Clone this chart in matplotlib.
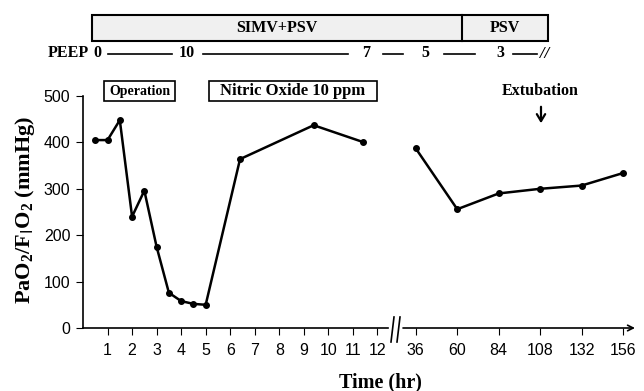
import matplotlib
matplotlib.use("Agg")
import matplotlib.pyplot as plt
from matplotlib.patches import Rectangle, FancyArrowPatch
from matplotlib.lines import Line2D

# PaO2/FIO2 readings, first 12 hours then later days
early_hours = [0.5, 1, 1.5, 2, 2.5, 3, 3.5, 4, 4.5, 5, 6.4, 9.4, 11.4]
early_ratio = [405, 405, 448, 240, 296, 175, 76, 58, 52, 50, 364, 437, 401]
late_hours = [36, 60, 84, 108, 132, 156]
late_ratio = [387, 256, 290, 300, 307, 334]

early_ticks = list(range(1, 13))
late_ticks = [36, 60, 84, 108, 132, 156]
y_ticks = [0, 100, 200, 300, 400, 500]

peep_labels = ['0', '10', '7', '5', '3']

W, H = 644, 391
serif = 'Liberation Serif'
sans = 'Liberation Sans'


def fx(x):
    return x / W


def fy(y):
    return 1 - y / H


fig = plt.figure(figsize=(6.44, 3.91), dpi=100)
bottom = fy(328)
height = fy(96) - bottom
ax1 = fig.add_axes([fx(83), bottom, fx(388) - fx(83), height])
ax2 = fig.add_axes([fx(403), bottom, fx(635) - fx(403), height])

ax1.plot(early_hours, early_ratio, color='black', lw=1.8, marker='o', ms=4)
ax1.set_xlim(0, 12.43)
ax2.plot(late_hours, late_ratio, color='black', lw=1.8, marker='o', ms=4)
ax2.set_xlim(28.6, 162.9)

for ax in (ax1, ax2):
    ax.set_ylim(0, 500)
    ax.spines['top'].set_visible(False)
    ax.spines['right'].set_visible(False)
    ax.tick_params(direction='out', length=5, width=0.8, labelsize=11.5, pad=6)
    ax.patch.set_alpha(0)

ax1.set_xticks(early_ticks)
ax1.set_xticklabels([str(t) for t in early_ticks], fontfamily=sans)
ax1.set_yticks(y_ticks)
ax1.set_yticklabels([str(t) for t in y_ticks], fontfamily=sans)
ax1.tick_params(axis='y', pad=4)
ax1.spines['left'].set_linewidth(1.2)
ax1.spines['bottom'].set_linewidth(1.2)

ax2.set_xticks(late_ticks)
ax2.set_xticklabels([str(t) for t in late_ticks], fontfamily=sans)
ax2.spines['left'].set_visible(False)
ax2.spines['bottom'].set_visible(False)
ax2.set_yticks([])
ax2.annotate('', xy=(1, 0), xytext=(0, 0), xycoords='axes fraction',
             arrowprops=dict(arrowstyle='->', lw=1.2, color='black',
                             shrinkA=0, shrinkB=0))

# axis break marks
for bx in (391, 397):
    fig.add_artist(Line2D([fx(bx), fx(bx + 3)], [fy(342), fy(317)], color='black', lw=1.2))

fig.text(fx(380), fy(382), 'Time (hr)', family=serif, weight='bold', fontsize=14.5,
         ha='center', va='center')
plt.rcParams['mathtext.default'] = 'regular'
fig.text(fx(25), fy(210), r'PaO$_2$/F$_\mathrm{I}$O$_2$ (mmHg)', family=serif, weight='bold',
         fontsize=16, rotation=90, ha='center', va='center')

# ventilation mode bar
fig.add_artist(Rectangle((fx(92), fy(41)), fx(548) - fx(92), fy(15) - fy(41),
                         facecolor='#f0f0f0', edgecolor='black', lw=1.5))
fig.add_artist(Line2D([fx(462), fx(462)], [fy(41), fy(15)], color='black', lw=1.5))
fig.text(fx(277), fy(28), 'SIMV+PSV', family=serif, weight='bold', fontsize=11.5,
         ha='center', va='center')
fig.text(fx(505), fy(28), 'PSV', family=serif, weight='bold', fontsize=11.5,
         ha='center', va='center')

# PEEP row
fig.text(fx(89), fy(53), 'PEEP', family=serif, weight='bold', fontsize=11.5,
         ha='right', va='center')
peep_x = [97, 187, 366, 425, 500]
for lab, px in zip(peep_labels, peep_x):
    fig.text(fx(px), fy(53), lab, family=serif, weight='bold', fontsize=11.5,
             ha='center', va='center')
for x0, x1 in [(108, 172), (203, 348), (383, 403), (444, 475), (513, 537)]:
    fig.add_artist(Line2D([fx(x0), fx(x1)], [fy(54), fy(54)], color='black', lw=1.2))
fig.text(fx(545), fy(54), '//', family=serif, weight='bold', style='italic', fontsize=12,
         ha='center', va='center')

# event boxes
for x0, x1 in [(104, 175), (209, 377)]:
    fig.add_artist(Rectangle((fx(x0), fy(101)), fx(x1) - fx(x0), fy(81) - fy(101),
                             facecolor='white', edgecolor='black', lw=1.2))
fig.text(fx(139.5), fy(91), 'Operation', family=serif, weight='bold', fontsize=10,
         ha='center', va='center')
fig.text(fx(293), fy(91), 'Nitric Oxide 10 ppm', family=serif, weight='bold', fontsize=12,
         ha='center', va='center')
fig.text(fx(540), fy(91), 'Extubation', family=serif, weight='bold', fontsize=11.5,
         ha='center', va='center')
fig.add_artist(FancyArrowPatch((fx(541), fy(104)), (fx(541), fy(126)),
                               transform=fig.transFigure,
                               arrowstyle='->,head_width=3,head_length=5',
                               lw=1.6, color='black'))

fig.savefig('out.png', dpi=100)
